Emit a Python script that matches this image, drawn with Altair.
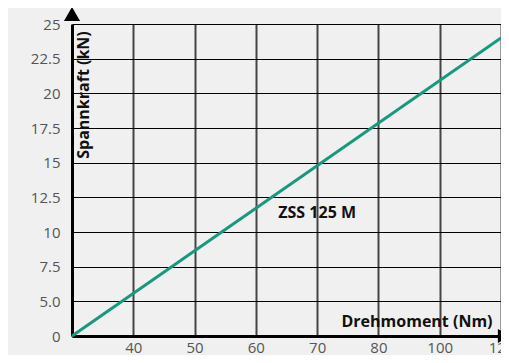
import altair as alt
import pandas as pd

x_labels = ["40", "50", "60", "70", "80", "100", "120"]
y_labels = ["0", "5.0", "7.5", "10", "12.5", "15", "17.5", "20", "22.5", "25"]

# line in axis-position units (evenly spaced tick positions)
line_x = [0, 7]
line_y = [0, 8.6]

series_label = "ZSS 125 M"
label_pos = (4.0, 3.55)

x_title = "Drehmoment (Nm)"
y_title = "Spannkraft (kN)"

BG = "#f0f0f0"
FONT = "Open Sans"

line_df = pd.DataFrame({"x": line_x, "y": line_y})
xs = alt.Scale(domain=[0, 7], nice=False, zero=False)
ys = alt.Scale(domain=[0, 9], nice=False, zero=False)

x_expr = "[" + ",".join(f"'{l}'" for l in [""] + x_labels) + "][datum.value]"
y_expr = "[" + ",".join(f"'{l}'" for l in y_labels) + "][datum.value]"

x_axis = alt.Axis(values=list(range(1, 8)), labelExpr=x_expr, title=None,
                  grid=True, gridColor="#444444", gridWidth=2, gridOpacity=1,
                  domainColor="black", domainWidth=3, ticks=False,
                  labelOverlap=False, labelFlush=False, labelBound=False,
                  labelPadding=4, labelFontSize=15, labelColor="#555555",
                  labelFont=FONT)
y_axis = alt.Axis(values=list(range(0, 10)), labelExpr=y_expr, title=None,
                  grid=True, gridColor="black", gridWidth=1, gridOpacity=1,
                  domainColor="black", domainWidth=3, ticks=False,
                  labelOverlap=False, labelFlush=False, labelBound=False,
                  labelPadding=12, labelFontSize=15, labelColor="#555555",
                  labelFont=FONT)

X = lambda: alt.X("x:Q", scale=xs, axis=x_axis)
Y = lambda: alt.Y("y:Q", scale=ys, axis=y_axis)

line = alt.Chart(line_df).mark_line(color="#17997f", strokeWidth=3).encode(x=X(), y=Y())

lab_df = pd.DataFrame({"x": [label_pos[0]], "y": [label_pos[1]], "t": [series_label]})
label = alt.Chart(lab_df).mark_text(font=FONT, fontSize=16, fontWeight="bold",
                                    color="#111111").encode(x=X(), y=Y(), text="t:N")

ytitle = alt.Chart(pd.DataFrame({"t": [y_title]})).mark_text(
    font=FONT, fontSize=16, fontWeight="bold", angle=270, color="#111111"
).encode(x=alt.value(12), y=alt.value(71), text="t:N")

xtitle = alt.Chart(pd.DataFrame({"t": [x_title]})).mark_text(
    font=FONT, fontSize=16, fontWeight="bold", color="#111111"
).encode(x=alt.value(345), y=alt.value(298), text="t:N")

arrow_up = alt.Chart(pd.DataFrame({"x": [0], "y": [9]})).mark_point(
    shape="triangle-up", filled=True, color="black", opacity=1, size=260, yOffset=-10
).encode(x=X(), y=Y())

arrow_right = alt.Chart(pd.DataFrame({"x": [7], "y": [0]})).mark_point(
    shape="triangle-right", filled=True, color="black", opacity=1, size=200, xOffset=3
).encode(x=X(), y=Y())

chart = alt.layer(line, label, ytitle, xtitle, arrow_up, arrow_right).properties(
    width=429, height=312,
    autosize=alt.AutoSizeParams(type="none"),
    padding={"left": 64, "top": 16, "right": 0, "bottom": 19},
    background=BG,
).configure_view(stroke=None, fill=BG)

chart.save("out.html", embed_options={"renderer": "svg", "actions": False})
